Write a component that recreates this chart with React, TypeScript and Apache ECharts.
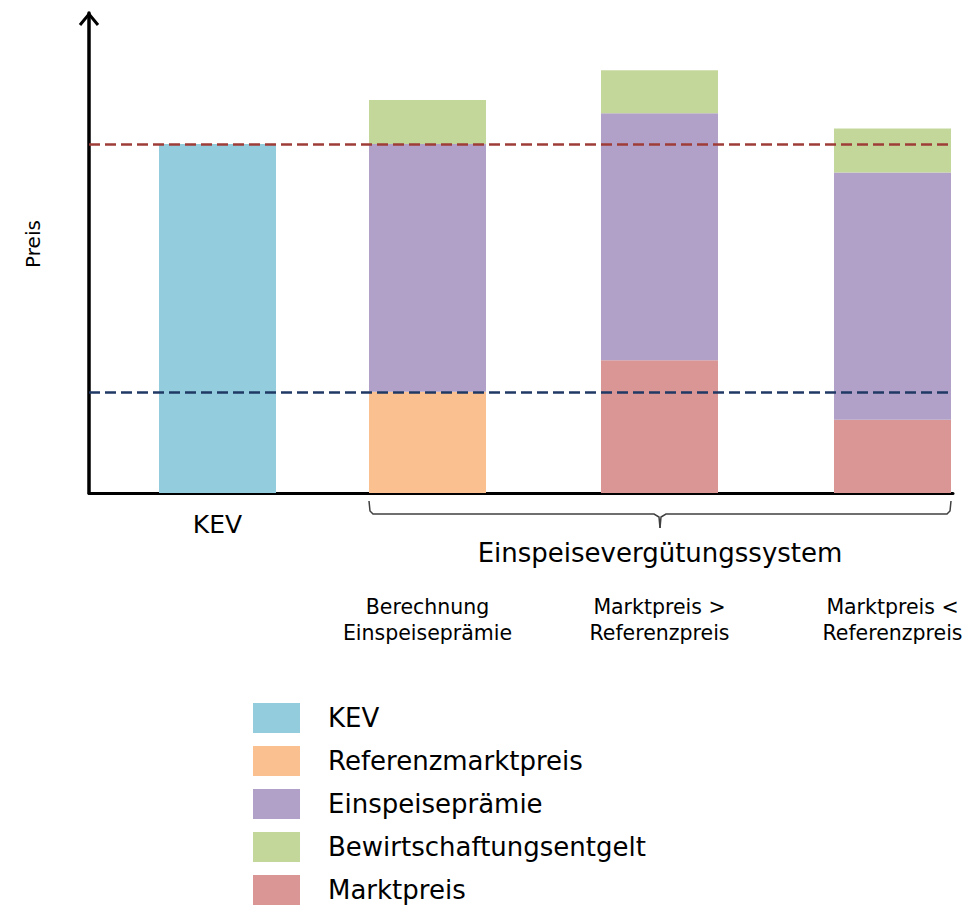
import React, { useEffect, useRef } from "react";
import * as echarts from "echarts";

// Positions of the four bars along the (value) x axis and their labels
const slots = [128.5, 338.5, 570.5, 803.5];
const groupLabels = ["KEV", "Berechnung\nEinspeiseprämie", "Marktpreis >\nReferenzpreis", "Marktpreis <\nReferenzpreis"];
const systemLabel = "Einspeisevergütungssystem";
const yAxisName = "Preis";

// Series values (stacked, arbitrary price units)
const kev = [100, null, null, null];
const referenzmarktpreis = [null, 29, null, null];
const marktpreis = [null, null, 38, 21];
const einspeisepraemie = [null, 71, 70.8, 70.8];
const bewirtschaftungsentgelt = [null, 12.6, 12.3, 12.6];

// Reference (dashed) levels
const kevLevel = 100;
const referenzLevel = 29;

const FONT = "DejaVu Sans";

const colors = {
  KEV: "#93CDDD",
  Referenzmarktpreis: "#FAC08F",
  Einspeiseprämie: "#B1A0C7",
  Bewirtschaftungsentgelt: "#C4D79B",
  Marktpreis: "#DA9694",
};

// rows: [price, position] (price first so that it is the stacked dimension)
function toData(vals: (number | null)[]) {
  return vals.map((v, i) => [v == null ? "-" : v, slots[i]]);
}

export default function App() {
  const ref = useRef<HTMLDivElement>(null);
  useEffect(() => {
    if (!ref.current) return;
    const chart = echarts.init(ref.current, null, { renderer: "svg" });
    const mkBar = (name: string, vals: (number | null)[]) => ({
      name,
      type: "bar",
      stack: "total",
      barWidth: 117,
      dimensions: ["price", "pos"],
      encode: { x: "pos", y: "price" },
      data: toData(vals),
      itemStyle: { color: (colors as any)[name] },
      silent: true,
    });
    chart.setOption({
      animation: false,
      grid: { left: 89, right: 16, top: 13, bottom: 416, containLabel: false },
      xAxis: {
        type: "value",
        min: 0,
        max: 864,
        axisLine: { show: true, onZero: false, lineStyle: { color: "#000", width: 3 } },
        axisTick: { show: false },
        axisLabel: { show: false },
        splitLine: { show: false },
      },
      yAxis: {
        type: "value",
        min: 0,
        max: 137.5,
        name: yAxisName,
        nameLocation: "middle",
        nameGap: 46,
        nameRotate: 90,
        nameTextStyle: { fontFamily: FONT, fontSize: 20, color: "#000", padding: [0, 0, 0, 18] },
        axisLine: { show: true, lineStyle: { color: "#000", width: 3.5 } },
        axisTick: { show: false },
        axisLabel: { show: false },
        splitLine: { show: false },
      },
      legend: {
        orient: "vertical",
        left: 253,
        top: 703,
        height: 240,
        padding: 0,
        itemWidth: 47,
        itemHeight: 30,
        itemGap: 13,
        icon: "rect",
        selectedMode: false,
        data: ["KEV", "Referenzmarktpreis", "Einspeiseprämie", "Bewirtschaftungsentgelt", "Marktpreis"],
        textStyle: { fontFamily: FONT, fontSize: 26, lineHeight: 30, color: "#000", padding: [0, 0, 0, 23] },
      },
      series: [
        mkBar("KEV", kev),
        mkBar("Referenzmarktpreis", referenzmarktpreis),
        mkBar("Marktpreis", marktpreis),
        mkBar("Einspeiseprämie", einspeisepraemie),
        mkBar("Bewirtschaftungsentgelt", bewirtschaftungsentgelt),
        {
          name: "refs",
          type: "line",
          data: [],
          z: 10,
          silent: true,
          markLine: {
            silent: true,
            symbol: "none",
            label: { show: false },
            z: 10,
            data: [
              { yAxis: kevLevel, lineStyle: { color: "#9E3D38", width: 2.5, type: [11, 5] } },
              { yAxis: referenzLevel, lineStyle: { color: "#1F3864", width: 2.5, type: [11, 5] } },
            ],
          },
        },
      ],
    });

    const px = (x: number, y: number) => chart.convertToPixel({ gridIndex: 0 }, [x, y]) as number[];
    const top = px(0, 137.5);
    const base = px(0, 0);
    const axisX = top[0];
    const axisY = base[1];
    const half = 58.5;
    const L = px(slots[1], 0)[0] - half;
    const R = px(slots[3], 0)[0] + half;
    const M = (L + R) / 2;
    const b0 = axisY + 8;
    const b1 = axisY + 21;
    const b2 = axisY + 35;
    const braceStyle = { stroke: "#404040", lineWidth: 1.5, fill: null };

    const graphics: any[] = [
      {
        type: "polyline",
        shape: { points: [[axisX - 9, top[1] + 12], [axisX, top[1] + 1], [axisX + 9, top[1] + 12]] },
        style: { stroke: "#000", lineWidth: 3, fill: null },
        z: 20,
      },
      {
        type: "polyline",
        shape: { points: [[L, b0], [L + 1, b1 - 3], [L + 4, b1], [M - 6, b1], [M - 1, b1 + 3], [M, b2]] },
        style: braceStyle,
      },
      {
        type: "polyline",
        shape: { points: [[R, b0], [R - 1, b1 - 3], [R - 4, b1], [M + 6, b1], [M + 1, b1 + 3], [M, b2]] },
        style: braceStyle,
      },
      {
        type: "text",
        x: px(slots[0], 0)[0],
        y: axisY + 31,
        style: { text: groupLabels[0], fontFamily: FONT, fontSize: 25, fill: "#000", align: "center", verticalAlign: "middle" },
      },
      {
        type: "text",
        x: M,
        y: axisY + 60,
        style: { text: systemLabel, fontFamily: FONT, fontSize: 26, fill: "#000", align: "center", verticalAlign: "middle" },
      },
    ];
    for (let i = 1; i < slots.length; i++) {
      graphics.push({
        type: "text",
        x: px(slots[i], 0)[0],
        y: axisY + 127,
        style: {
          text: groupLabels[i],
          fontFamily: FONT,
          fontSize: 20.5,
          lineHeight: 26,
          fill: "#000",
          align: "center",
          verticalAlign: "middle",
        },
      });
    }
    chart.setOption({ graphic: graphics });
    return () => chart.dispose();
  }, []);
  return <div ref={ref} style={{ width: 969, height: 909, position: "absolute", left: 0, top: 0 }} />;
}
